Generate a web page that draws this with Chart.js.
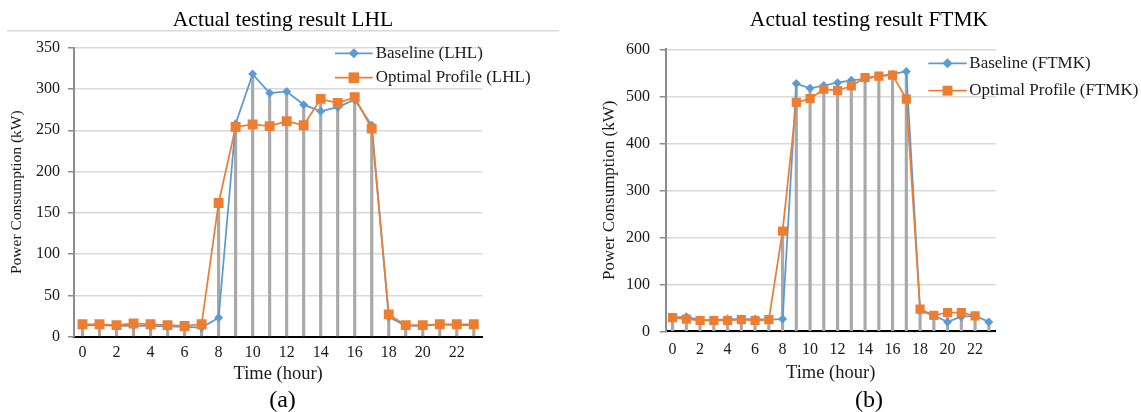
<!DOCTYPE html>
<html>
<head>
<meta charset="utf-8">
<script src="https://cdn.jsdelivr.net/npm/chart.js@4.4.1/dist/chart.umd.min.js"></script>
<style>
    html, body { margin: 0; padding: 0; background: #fff; }
    #wrap { position: relative; width: 1141px; height: 412px; overflow: hidden; }
    canvas { position: absolute; top: 0; }
    #chartLHL { left: 0; }
    #chartFTMK { left: 570px; }
</style>
</head>
<body>
<div id="wrap">
    <canvas id="chartLHL" width="560" height="412"></canvas>
    <canvas id="chartFTMK" width="571" height="412"></canvas>
</div>
<script>
// Data
const hours = ['0', '1', '2', '3', '4', '5', '6', '7', '8', '9', '10', '11',
               '12', '13', '14', '15', '16', '17', '18', '19', '20', '21', '22', '23'];

const baselineLHL = [14, 14, 13, 13.5, 13, 12.5, 12, 11, 23, 258, 318, 295,
                     297, 281, 273, 278, 287, 256, 24, 13, 13, 15, 14, 14];
const optimalLHL  = [15, 15, 14, 16, 15, 14, 13, 15, 162, 254, 257, 255,
                     261, 256, 288, 283, 290, 252, 27, 14, 14, 15, 15, 15];
const yTicksLHL = [0, 50, 100, 150, 200, 250, 300, 350];

const baselineFTMK = [29, 31, 24, 24, 26, 26, 26, 25, 26, 527, 517, 523,
                      529, 534, 537, 543, 547, 553, 44, 33, 20, 31, 33, 20];
const optimalFTMK  = [29, 26, 23, 23, 23, 25, 23, 25, 213, 487, 495, 515,
                      512, 522, 540, 543, 545, 494, 47, 34, 40, 40, 33, null];
const yTicksFTMK = [0, 100, 200, 300, 400, 500, 600];

const SERIF = "'Liberation Serif', 'Times New Roman', serif";
const BLUE = '#5b9bd5';
const ORANGE = '#ed7d31';
const TEXT = '#1a1a1a';

Chart.defaults.font.family = SERIF;
Chart.defaults.color = TEXT;

function drawMarker(ctx, style, x, y, r, color) {
    ctx.fillStyle = color;
    ctx.beginPath();
    if (style === 'rectRot') {
        ctx.moveTo(x, y - r);
        ctx.lineTo(x + r, y);
        ctx.lineTo(x, y + r);
        ctx.lineTo(x - r, y);
    } else {
        const s = r * Math.SQRT1_2;
        ctx.rect(x - s, y - s, 2 * s, 2 * s);
    }
    ctx.closePath();
    ctx.fill();
}

// Excel style legend: short line with the marker on it, then the label
const lineLegend = {
    id: 'lineLegend',
    afterDraw(chart, args, opts) {
        const ctx = chart.ctx;
        ctx.save();
        ctx.font = opts.font;
        ctx.textBaseline = 'middle';
        ctx.textAlign = 'left';
        let row = 0;
        chart.data.datasets.forEach(ds => {
            if (ds.type === 'bar') return;
            const y = opts.y + row * opts.gap;
            ctx.strokeStyle = ds.borderColor;
            ctx.lineWidth = ds.borderWidth;
            ctx.beginPath();
            ctx.moveTo(opts.x1, y);
            ctx.lineTo(opts.x2, y);
            ctx.stroke();
            drawMarker(ctx, ds.pointStyle, (opts.x1 + opts.x2) / 2, y, ds.pointRadius + 0.5, ds.pointBackgroundColor);
            ctx.fillStyle = TEXT;
            ctx.fillText(ds.label, opts.textX, y);
            row++;
        });
        ctx.restore();
    }
};

// Title, caption and the thin frame line
const pageText = {
    id: 'pageText',
    afterDraw(chart, args, opts) {
        const ctx = chart.ctx;
        ctx.save();
        if (opts.frame) {
            ctx.strokeStyle = '#d9d9d9';
            ctx.lineWidth = 1.5;
            ctx.beginPath();
            ctx.moveTo(opts.frame.x1, opts.frame.y);
            ctx.lineTo(opts.frame.x2, opts.frame.y);
            ctx.stroke();
        }
        ctx.fillStyle = '#000';
        ctx.textAlign = 'center';
        ctx.textBaseline = 'middle';
        opts.items.forEach(it => {
            ctx.font = it.size + 'px ' + SERIF;
            ctx.fillText(it.text, it.x, it.y);
        });
        ctx.restore();
    }
};

function buildChart(id, c) {
    const drops = hours.map((h, i) => Math.max(c.baseline[i] ?? 0, c.optimal[i] ?? 0));
    return new Chart(document.getElementById(id).getContext('2d'), {
        data: {
            labels: hours,
            datasets: [
                {
                    type: 'bar',
                    label: 'drop',
                    data: drops,
                    backgroundColor: '#a9a9a9',
                    barThickness: 2.5,
                    order: 3
                },
                {
                    type: 'line',
                    label: c.names[0],
                    data: c.baseline,
                    borderColor: BLUE,
                    borderWidth: 1.75,
                    pointStyle: 'rectRot',
                    pointRadius: c.diamond,
                    pointBackgroundColor: BLUE,
                    pointBorderWidth: 0,
                    tension: 0,
                    order: 2
                },
                {
                    type: 'line',
                    label: c.names[1],
                    data: c.optimal,
                    borderColor: ORANGE,
                    borderWidth: 1.75,
                    pointStyle: 'rect',
                    pointRadius: c.square,
                    pointBackgroundColor: ORANGE,
                    pointBorderWidth: 0,
                    tension: 0,
                    order: 1
                }
            ]
        },
        options: {
            responsive: false,
            animation: false,
            layout: { padding: c.padding },
            plugins: {
                legend: { display: false },
                tooltip: { enabled: false },
                lineLegend: c.legend,
                pageText: c.text
            },
            scales: {
                x: {
                    type: 'category',
                    offset: true,
                    grid: { display: false, drawTicks: false },
                    border: { color: '#000', width: 2 },
                    ticks: {
                        autoSkip: false,
                        maxRotation: 0,
                        padding: c.xTickPad,
                        font: { size: c.tickSize },
                        callback: (v, i) => (i % 2 === 0 ? hours[i] : '')
                    },
                    title: {
                        display: true,
                        text: 'Time (hour)',
                        font: { size: 18.5 },
                        padding: { top: 0, bottom: 0 }
                    },
                    afterFit: s => { s.height = c.xHeight; }
                },
                y: {
                    min: 0,
                    max: c.yTicks[c.yTicks.length - 1],
                    grid: { color: '#d9d9d9', lineWidth: 1.5, tickLength: 6, tickColor: '#8c8c8c' },
                    border: { color: '#8c8c8c', width: 2 },
                    afterBuildTicks: s => { s.ticks = c.yTicks.map(v => ({ value: v })); },
                    ticks: { padding: c.yTickPad, font: { size: c.tickSize } },
                    title: {
                        display: true,
                        text: 'Power Consumption (kW)',
                        font: { size: c.yTitleSize },
                        padding: { top: c.yTitlePad, bottom: 0 }
                    },
                    afterFit: s => { s.width = c.yWidth; }
                }
            }
        },
        plugins: [lineLegend, pageText]
    });
}

buildChart('chartLHL', {
    baseline: baselineLHL,
    optimal: optimalLHL,
    yTicks: yTicksLHL,
    names: ['Baseline (LHL)', 'Optimal Profile (LHL)'],
    diamond: 4.5,
    square: 7,
    padding: { left: 0, top: 47.7, right: 77.7, bottom: 27 },
    yWidth: 74,
    xHeight: 48.3,
    tickSize: 16,
    xTickPad: 6.5,
    yTickPad: 8,
    yTitleSize: 15.5,
    yTitlePad: 7.7,
    legend: { x1: 335, x2: 372.7, textX: 375.7, y: 53.3, gap: 24.4, font: '17px ' + SERIF },
    text: {
        frame: { x1: 7, x2: 559, y: 30.7 },
        items: [
            { text: 'Actual testing result LHL', x: 283, y: 20, size: 21.5 },
            { text: '(a)', x: 282.5, y: 401, size: 24 }
        ]
    }
});

buildChart('chartFTMK', {
    baseline: baselineFTMK,
    optimal: optimalFTMK,
    yTicks: yTicksFTMK,
    names: ['Baseline (FTMK)', 'Optimal Profile (FTMK)'],
    diamond: 4.5,
    square: 6.5,
    padding: { left: 0, top: 49.3, right: 145.3, bottom: 28 },
    yWidth: 95.7,
    xHeight: 52.7,
    tickSize: 16,
    xTickPad: 9,
    yTickPad: 9.7,
    yTitleSize: 17,
    yTitlePad: 29.8,
    legend: { x1: 358.3, x2: 396.7, textX: 399.3, y: 63.3, gap: 27.4, font: '17px ' + SERIF },
    text: {
        items: [
            { text: 'Actual testing result FTMK', x: 299, y: 20, size: 21.5 },
            { text: '(b)', x: 299, y: 401, size: 24 }
        ]
    }
});
</script>
</body>
</html>
